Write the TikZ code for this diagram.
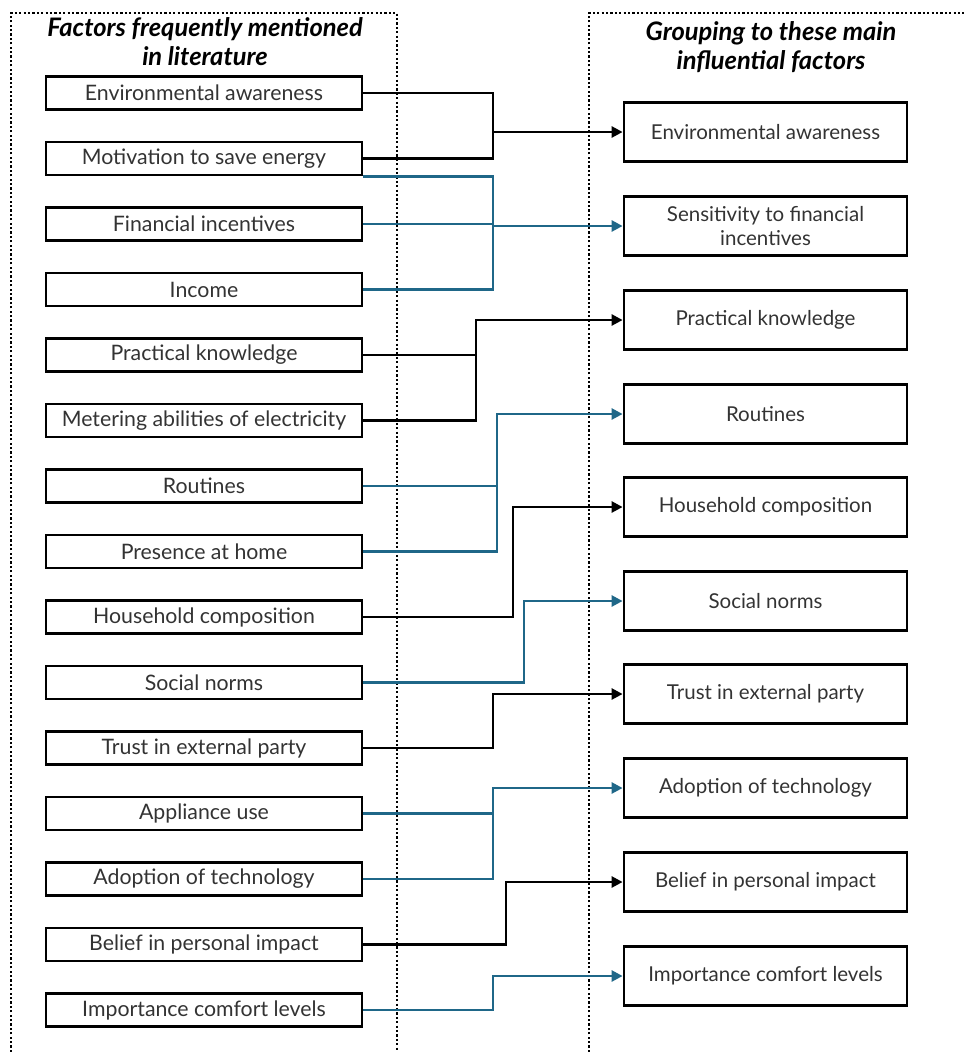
\documentclass[tikz,border=0pt]{standalone}
\usepackage{fontspec}
\setmainfont{Lato}
\usetikzlibrary{arrows.meta}
\definecolor{tealline}{HTML}{1F6788}
\definecolor{boxtext}{HTML}{333333}

\begin{document}
\begin{tikzpicture}[x=1pt,y=-1pt,
  leftbox/.style={draw=black, line width=2.8pt, minimum width=316pt, minimum height=33pt,
    inner sep=0pt, text=boxtext, font=\fontsize{21.3}{24}\selectfont},
  rightbox/.style={draw=black, line width=2.8pt, minimum width=283pt, minimum height=59pt,
    inner sep=0pt, align=center, text=boxtext, font=\fontsize{20.5}{24}\selectfont},
  blk/.style={line width=2.6pt, black},
  tl/.style={line width=2.6pt, tealline},
  arr/.style={-{Triangle[length=11pt,width=11pt]}},
  frame/.style={line width=2.2pt, dash pattern=on 2.2pt off 2.2pt},
  head/.style={font=\bfseries\itshape\fontsize{25.5}{29}\selectfont, align=center}]

\useasboundingbox (0,0) rectangle (964,1052);

% dotted column frames
\draw[frame] (11,1052) -- (11,13) -- (397,13) -- (397,1052);
\draw[frame] (589,1052) -- (589,13) -- (964,13);

% column headings
\node[head] (hl) at (205,42) {Factors frequently mentioned\\in literature};
\node[head] (hr) at (771,47) {Grouping to these main\\influential factors};

% factors from literature
\node[leftbox] (l1)  at (204,93)     {Environmental awareness};
\node[leftbox] (l2)  at (204,158.5)  {Motivation to save energy};
\node[leftbox] (l3)  at (204,224)    {Financial incentives};
\node[leftbox] (l4)  at (204,289.5)  {Income};
\node[leftbox] (l5)  at (204,355)    {Practical knowledge};
\node[leftbox] (l6)  at (204,420.5)  {Metering abilities of electricity};
\node[leftbox] (l7)  at (204,486)    {Routines};
\node[leftbox] (l8)  at (204,551.5)  {Presence at home};
\node[leftbox] (l9)  at (204,617)    {Household composition};
\node[leftbox] (l10) at (204,682.5)  {Social norms};
\node[leftbox] (l11) at (204,748)    {Trust in external party};
\node[leftbox] (l12) at (204,813.5)  {Appliance use};
\node[leftbox] (l13) at (204,879)    {Adoption of technology};
\node[leftbox] (l14) at (204,944.5)  {Belief in personal impact};
\node[leftbox] (l15) at (204,1010)   {Importance comfort levels};

% main influential factors
\node[rightbox] (r1)  at (765.5,132) {Environmental awareness};
\node[rightbox] (r2)  at (765.5,226) {Sensitivity to financial\\incentives};
\node[rightbox] (r3)  at (765.5,320) {Practical knowledge};
\node[rightbox] (r4)  at (765.5,414) {Routines};
\node[rightbox] (r5)  at (765.5,507) {Household composition};
\node[rightbox] (r6)  at (765.5,601) {Social norms};
\node[rightbox] (r7)  at (765.5,694) {Trust in external party};
\node[rightbox] (r8)  at (765.5,788) {Adoption of technology};
\node[rightbox] (r9)  at (765.5,882) {Belief in personal impact};
\node[rightbox] (r10) at (765.5,976) {Importance comfort levels};

% junction columns
\coordinate (j1) at (493,0);
\coordinate (j2) at (493,0);
\coordinate (j3) at (476,0);
\coordinate (j4) at (497,0);
\coordinate (j5) at (513,0);
\coordinate (j6) at (524,0);
\coordinate (j7) at (493,0);
\coordinate (j8) at (493,0);
\coordinate (j9) at (506,0);
\coordinate (j10) at (493,0);

% connectors
\draw[blk] (l1.east) -- (j1 |- l1.east) -- (j1 |- l2.east) -- (l2.east);
\draw[blk,arr] (j1 |- r1.west) -- (r1.west);

\draw[tl] (l2.south east) -- (j2 |- l2.south east) -- (j2 |- l4.east) -- (l4.east);
\draw[tl] (l3.east) -- (j2 |- l3.east);
\draw[tl,arr] (j2 |- r2.west) -- (r2.west);

\draw[blk] (l5.east) -- (j3 |- l5.east);
\draw[blk,arr] (l6.east) -- (j3 |- l6.east) -- (j3 |- r3.west) -- (r3.west);

\draw[tl] (l7.east) -- (j4 |- l7.east);
\draw[tl,arr] (l8.east) -- (j4 |- l8.east) -- (j4 |- r4.west) -- (r4.west);

\draw[blk,arr] (l9.east) -- (j5 |- l9.east) -- (j5 |- r5.west) -- (r5.west);

\draw[tl,arr] (l10.east) -- (j6 |- l10.east) -- (j6 |- r6.west) -- (r6.west);

\draw[blk,arr] (l11.east) -- (j7 |- l11.east) -- (j7 |- r7.west) -- (r7.west);

\draw[tl] (l12.east) -- (j8 |- l12.east);
\draw[tl,arr] (l13.east) -- (j8 |- l13.east) -- (j8 |- r8.west) -- (r8.west);

\draw[blk,arr] (l14.east) -- (j9 |- l14.east) -- (j9 |- r9.west) -- (r9.west);

\draw[tl,arr] (l15.east) -- (j10 |- l15.east) -- (j10 |- r10.west) -- (r10.west);

\end{tikzpicture}
\end{document}
